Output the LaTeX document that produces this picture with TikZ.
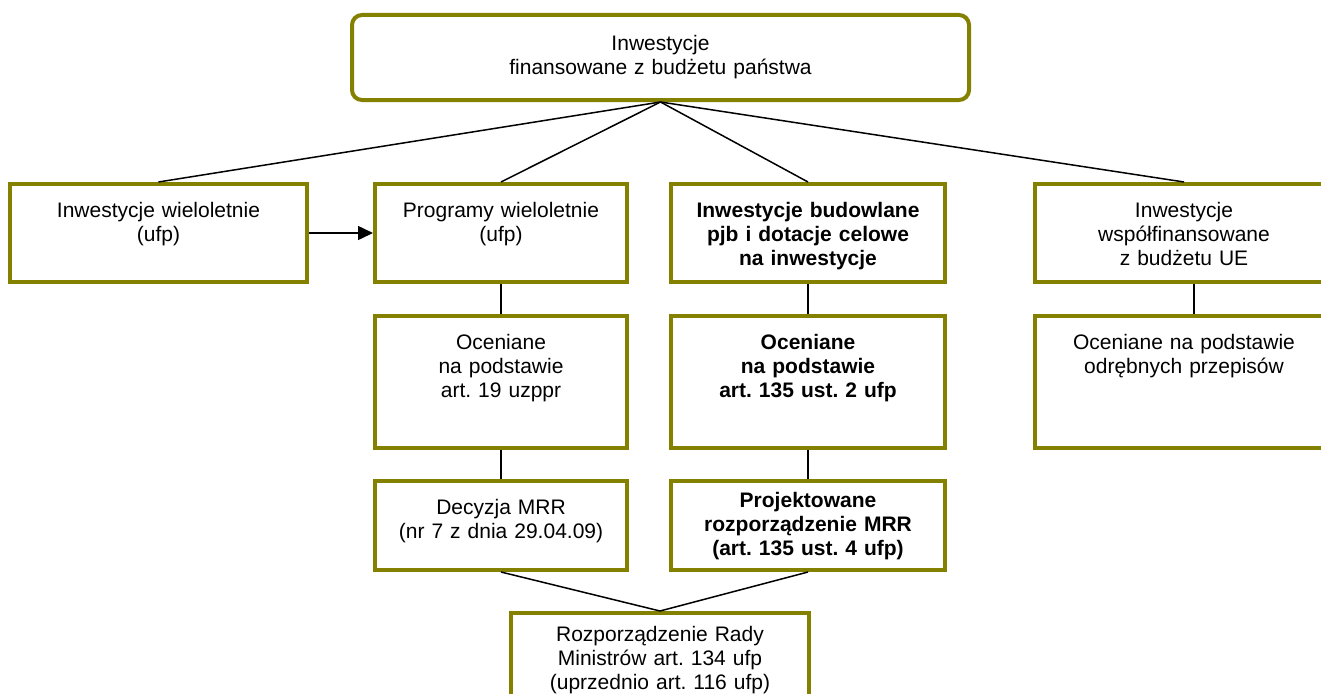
\documentclass[tikz,border=0pt]{standalone}
\usepackage{fontspec}
\setmainfont{Liberation Sans}
\usetikzlibrary{arrows.meta}
\usepackage{xcolor}
\definecolor{myolive}{HTML}{848000}
\frenchspacing

\tikzset{
  box/.style={draw=myolive, line width=4pt, fill=white, align=center,
    anchor=north, inner sep=4pt, text height=29pt},
  topbox/.style={draw=myolive, line width=4pt, rounded corners=10pt,
    align=center, inner sep=4pt, text width=609pt, minimum height=85pt},
  bold/.style={font=\fontsize{21}{24}\selectfont\bfseries},
  link/.style={line width=1.5pt}
}

\begin{document}
\begin{tikzpicture}[x=1pt, y=-1pt, >={Triangle[length=15pt,width=14pt]},
  every node/.style={font=\fontsize{21}{24}\selectfont}]
  \useasboundingbox (0,0) rectangle (1321,693);

  \node [topbox] (inv) at (660.5,57.5) {Inwestycje\\finansowane z budżetu państwa};

  % second row
  \node [box, text width=289pt, text depth=61pt] (wiel) at (158.5,182)
  {Inwestycje wieloletnie\\(ufp)};
  \node [box, text width=244pt, text depth=61pt] (prog) at (501,182)
  {Programy wieloletnie\\(ufp)};
  \node [box, bold, text width=266pt, text depth=61pt] (bud) at (808,182)
  {Inwestycje budowlane\\pjb i dotacje celowe\\na inwestycje};
  \node [box, text width=290pt, text depth=61pt] (ue) at (1184,182)
  {Inwestycje\\współfinansowane\\z budżetu UE};

  % third row
  \node [box, text width=244pt, text depth=95pt] (prog2) at (501,314)
  {Oceniane\\na podstawie\\art. 19 uzppr};
  \node [box, bold, text width=266pt, text depth=95pt] (bud2) at (808,314)
  {Oceniane\\na podstawie\\art. 135 ust. 2 ufp};
  \node [box, text width=290pt, text depth=95pt] (ue2) at (1184,314)
  {Oceniane na podstawie\\odrębnych przepisów};

  % fourth row
  \node [box, text width=244pt, text depth=52pt] (dec) at (501,479)
  {Decyzja MRR\\(nr 7 z dnia 29.04.09)};
  \node [box, bold, text width=266pt, text height=22pt, text depth=59pt] (proj) at (808,479)
  {Projektowane\\rozporządzenie MRR\\(art. 135 ust. 4 ufp)};

  \node [box, text width=290pt, text height=24pt, text depth=78pt] (rozp) at (660,611)
  {Rozporządzenie Rady\\Ministrów art. 134 ufp\\(uprzednio art. 116 ufp)};

  \foreach \n in {wiel, prog, bud, ue}
    \draw [link] (inv.south) -- (\n.north);

  \draw [link, ->] (wiel) -- (prog);

  \draw [link] (prog) -- (prog2);
  \draw [link] (prog2) -- (dec);
  \draw [link] (bud) -- (bud2);
  \draw [link] (bud2) -- (proj);
  \draw [link] ([xshift=10pt]ue.south) -- ([xshift=10pt]ue2.north);

  \draw [link] (dec.south) -- (rozp.north);
  \draw [link] (proj.south) -- (rozp.north);
\end{tikzpicture}
\end{document}
